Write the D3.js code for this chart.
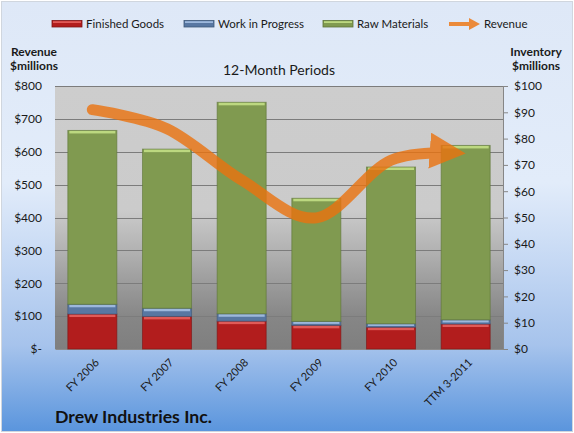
<!DOCTYPE html>
<html>
<head>
<meta charset="utf-8">
<script src="https://cdn.jsdelivr.net/npm/d3@7"></script>
<style>
body{margin:0;padding:0;background:#fff;}
svg{display:block;font-family:Lato,"Open Sans",sans-serif;}
</style>
</head>
<body>
<div class="graph"></div>
<script>
const categories = ["FY 2006","FY 2007","FY 2008","FY 2009","FY 2010","TTM 3-2011"];
const finishedGoods = [13.3,12.4,10.6,9.0,8.3,9.5];
const workInProgress = [3.7,3.1,2.8,1.5,1.3,1.6];
const rawMaterials = [66.1,60.5,80.4,46.8,59.6,66.3];
const revenue = [728,670,514,399,574,595];
const revenueTicks = [0,100,200,300,400,500,600,700,800];
const inventoryTicks = [0,10,20,30,40,50,60,70,80,90,100];
const seriesNames = ["Finished Goods","Work in Progress","Raw Materials"];

const width = 574;
const height = 433;
const plot = {left:55, right:503, top:86, bottom:349};

var colors = {
    "Finished Goods":{body:"#B21D1D",top:"#E05A57",edge:"#7E1414"},
    "Work in Progress":{body:"#5877A2",top:"#9DB8DC",edge:"#3E5878"},
    "Raw Materials":{body:"#809A50",top:"#BCD880",edge:"#5D7437"}
};

var rows = categories.map((c,i) => ({
    cat:c,
    "Finished Goods":finishedGoods[i],
    "Work in Progress":workInProgress[i],
    "Raw Materials":rawMaterials[i]
}));

var svg = d3.select(".graph").append("svg")
    .attr("width",width)
    .attr("height",height);

var defs = svg.append("defs");

var bg = defs.append("linearGradient").attr("id","bgGrad")
    .attr("x1",0).attr("y1",0).attr("x2",0).attr("y2",1);
[[0,"#DEE8F7"],[0.42,"#E2ECFA"],[0.6,"#C6D9F4"],[0.8,"#A6C3EC"],[1,"#5A95DD"]]
    .forEach(s => bg.append("stop").attr("offset",s[0]).attr("stop-color",s[1]));

var pg = defs.append("linearGradient").attr("id","plotGrad")
    .attr("x1",0).attr("y1",0).attr("x2",0).attr("y2",1);
[[0,"#CDCDCD"],[0.47,"#CBCBCB"],[0.62,"#B3B3B3"],[0.76,"#9A9A9A"],[0.88,"#868686"],[1,"#7F7F7F"]]
    .forEach(s => pg.append("stop").attr("offset",s[0]).attr("stop-color",s[1]));

defs.append("marker")
    .attr("id","arrow")
    .attr("markerUnits","userSpaceOnUse")
    .attr("viewBox","0 0 36 36")
    .attr("refX",36).attr("refY",18)
    .attr("markerWidth",36).attr("markerHeight",36)
    .attr("orient","auto")
    .append("path")
    .attr("d","M0,0 L36,18 L0,36 Z")
    .attr("fill","#EB730F");

// background
svg.append("rect")
    .attr("x",1.5).attr("y",1.5)
    .attr("width",width-3).attr("height",height-3)
    .attr("fill","url(#bgGrad)")
    .attr("stroke","#D0D6DE");

svg.append("rect")
    .attr("x",plot.left).attr("y",plot.top)
    .attr("width",plot.right-plot.left).attr("height",plot.bottom-plot.top)
    .attr("fill","url(#plotGrad)");

// scales
var x = d3.scaleBand()
    .domain(categories)
    .range([plot.left,plot.right])
    .paddingInner(0.33)
    .paddingOuter(0.165);

var yRev = d3.scaleLinear().domain([0,800]).range([plot.bottom,plot.top]);
var yInv = d3.scaleLinear().domain([0,100]).range([plot.bottom,plot.top]);

// gridlines
svg.append("g").selectAll("line")
    .data(revenueTicks.slice(1))
    .enter().append("line")
    .attr("x1",plot.left).attr("x2",plot.right)
    .attr("y1",d => Math.round(yRev(d))+0.5)
    .attr("y2",d => Math.round(yRev(d))+0.5)
    .attr("stroke","#7C7C7C");

// left axis
var leftAxis = d3.axisLeft(yRev)
    .tickValues(revenueTicks)
    .tickSize(0)
    .tickPadding(13)
    .tickFormat(d => d === 0 ? "$-" : "$" + d);
var gl = svg.append("g")
    .attr("transform","translate("+plot.left+",0)")
    .call(leftAxis);
gl.select(".domain").remove();
gl.selectAll("text").attr("font-size","12px").attr("fill","#1A1A1A").attr("font-family","Lato");

// right axis
var rightAxis = d3.axisRight(yInv)
    .tickValues(inventoryTicks)
    .tickSize(5)
    .tickPadding(6)
    .tickFormat(d => "$" + d);
var gr = svg.append("g")
    .attr("transform","translate("+plot.right+",0)")
    .call(rightAxis);
gr.select(".domain").attr("stroke","#868686");
gr.selectAll(".tick line").attr("stroke","#868686");
gr.selectAll("text").attr("font-size","12px").attr("fill","#1A1A1A").attr("font-family","Lato");

// bottom axis labels
var gb = svg.append("g")
    .attr("transform","translate(0,"+plot.bottom+")")
    .call(d3.axisBottom(x).tickSize(0).tickPadding(0));
gb.select(".domain").attr("stroke","#8C8C8C");
gb.selectAll("text")
    .attr("font-size","11px")
    .attr("fill","#1A1A1A")
    .attr("font-family","Lato")
    .attr("text-anchor","end")
    .attr("dy","0.3em")
    .attr("transform","translate(5,12) rotate(-45)");

// stacked bars
var stack = d3.stack().keys(seriesNames);
var layers = stack(rows);

var layerG = svg.append("g").selectAll("g")
    .data(layers)
    .enter().append("g");

layerG.selectAll("rect.body")
    .data(d => d.map(v => ({key:d.key, v:v})))
    .enter().append("rect")
    .attr("class","body")
    .attr("x",d => x(d.v.data.cat)+0.5)
    .attr("y",d => yInv(d.v[1]))
    .attr("width",x.bandwidth()-1)
    .attr("height",d => yInv(d.v[0]) - yInv(d.v[1]))
    .attr("fill",d => colors[d.key].body)
    .attr("stroke",d => colors[d.key].edge)
    .attr("stroke-opacity",0.6);

layerG.selectAll("rect.hi")
    .data(d => d.map(v => ({key:d.key, v:v})))
    .enter().append("rect")
    .attr("class","hi")
    .attr("x",d => x(d.v.data.cat)+2)
    .attr("y",d => yInv(d.v[1])+0.5)
    .attr("width",x.bandwidth()-4)
    .attr("height",d => Math.min(2.5,(yInv(d.v[0]) - yInv(d.v[1]))/2))
    .attr("fill",d => colors[d.key].top);

// revenue line
var line = d3.line()
    .x((d,i) => x(categories[i]) + x.bandwidth()/2)
    .y(d => yRev(d))
    .curve(d3.curveCardinal.tension(0));

var revG = svg.append("g").attr("opacity",0.8);
var revPath = revG.append("path")
    .datum(revenue)
    .attr("d",line)
    .attr("fill","none")
    .attr("stroke","#EB730F")
    .attr("stroke-width",11)
    .attr("stroke-linecap","round")
    .attr("marker-end","url(#arrow)");
var len = revPath.node().getTotalLength();
revPath.attr("stroke-dasharray",(len-26)+" "+(len+20));

// legend
var legend = svg.append("g");
var legendItems = [
    {name:"Finished Goods",x:52,tx:86},
    {name:"Work in Progress",x:184,tx:218},
    {name:"Raw Materials",x:323,tx:357}
];
legendItems.forEach(it => {
    legend.append("rect")
        .attr("x",it.x).attr("y",20.5)
        .attr("width",30).attr("height",6.5)
        .attr("fill",colors[it.name].body)
        .attr("stroke",colors[it.name].edge)
        .attr("stroke-width",0.8);
    legend.append("rect")
        .attr("x",it.x+1).attr("y",21.2)
        .attr("width",28).attr("height",1.8)
        .attr("fill",colors[it.name].top);
    legend.append("text")
        .attr("x",it.tx).attr("y",28)
        .attr("font-size","11.5px")
        .attr("fill","#1A1A1A")
        .text(it.name);
});
legend.append("path")
    .attr("d","M449,24 L470,24")
    .attr("stroke","#EB8A3A")
    .attr("stroke-width",4);
legend.append("path")
    .attr("d","M469,18 L480,24 L469,30 Z")
    .attr("fill","#EB8A3A");
legend.append("text")
    .attr("x",484).attr("y",28)
    .attr("font-size","11.5px")
    .attr("fill","#1A1A1A")
    .text("Revenue");

// axis titles
function twoLines(cx, lines){
    lines.forEach((t,i) => {
        svg.append("text")
            .attr("x",cx).attr("y",56+i*14)
            .attr("text-anchor","middle")
            .attr("font-size","12px")
            .attr("font-weight","bold")
            .attr("fill","#1A1A1A")
            .text(t);
    });
}
twoLines(34,["Revenue","$millions"]);
twoLines(536,["Inventory","$millions"]);

svg.append("text")
    .attr("x",(plot.left+plot.right)/2).attr("y",75)
    .attr("text-anchor","middle")
    .attr("font-size","14px")
    .attr("fill","#1A1A1A")
    .text("12-Month Periods");

svg.append("text")
    .attr("x",55).attr("y",423)
    .attr("font-size","17.7px")
    .attr("font-weight","bold")
    .attr("fill","#111")
    .text("Drew Industries Inc.");
</script>
</body>
</html>
